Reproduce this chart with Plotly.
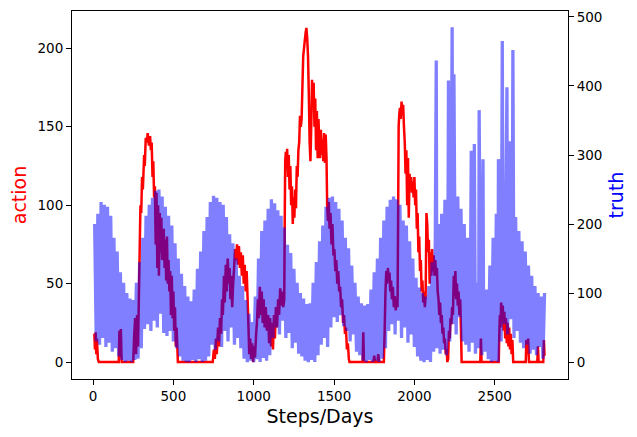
import plotly.graph_objects as go

# action (red, left axis): (day, value)
action_points = [
    (8, 18), (12, 8), (16, 19), (20, 5), (24, 15), (30, 2), (36, 0), (160, 0), (164, 20), (168, 3),
    (173, 21), (178, 0), (250, 0), (255, 15), (262, 28), (268, 5), (274, 30), (280, 10), (285, 40),
    (290, 70), (295, 100), (300, 95), (305, 118), (310, 110), (318, 132), (322, 125), (328, 143),
    (335, 140), (340, 146), (348, 138), (355, 144), (360, 135), (365, 140), (370, 118), (375, 128),
    (380, 105), (385, 112), (390, 75), (395, 108), (400, 60), (405, 100), (410, 55), (415, 95),
    (420, 70), (425, 92), (430, 65), (440, 85), (445, 60), (450, 78), (455, 52), (460, 80), (465, 50),
    (470, 65), (475, 45), (480, 58), (485, 30), (490, 55), (495, 28), (500, 45), (505, 20), (510, 35),
    (515, 10), (520, 22), (528, 0),
    (745, 0), (752, 8), (758, 2), (765, 15), (770, 5), (778, 22), (784, 10), (790, 28), (797, 18),
    (803, 40), (808, 30), (815, 55), (820, 38), (826, 62), (832, 45), (838, 66), (845, 50), (850, 60),
    (855, 40), (860, 55), (866, 35), (872, 50), (878, 60), (884, 72), (890, 65), (896, 75), (902, 62),
    (908, 74), (914, 60), (920, 70), (926, 55), (932, 68), (938, 50), (944, 62), (950, 45), (956, 58),
    (962, 40), (968, 20), (972, 5), (978, 15), (984, 2), (990, 12), (996, 0), (1002, 10), (1008, 3),
    (1015, 18), (1020, 25), (1026, 40), (1032, 28), (1038, 48), (1044, 30), (1050, 45), (1056, 25),
    (1062, 40), (1068, 22), (1075, 35), (1082, 20), (1090, 30), (1096, 12), (1102, 28), (1108, 10),
    (1114, 25), (1120, 8), (1126, 30), (1132, 15), (1138, 35), (1145, 22), (1152, 40), (1158, 30),
    (1165, 47), (1172, 36), (1178, 45), (1184, 35), (1190, 40),
    (1193, 90), (1196, 128), (1200, 134), (1204, 124), (1208, 136), (1213, 118), (1218, 132),
    (1223, 110), (1228, 125), (1233, 100), (1238, 112), (1243, 88), (1248, 105), (1253, 92),
    (1258, 110), (1263, 98), (1268, 125), (1273, 118), (1278, 135), (1283, 140), (1288, 157),
    (1293, 150), (1298, 155), (1303, 175), (1308, 195), (1313, 200), (1318, 205), (1323, 210),
    (1328, 213), (1333, 206), (1338, 195), (1343, 170), (1348, 140), (1353, 128), (1358, 150),
    (1363, 180), (1368, 165), (1373, 178), (1378, 150), (1383, 168), (1388, 135), (1393, 160),
    (1398, 130), (1403, 155), (1408, 140), (1413, 130), (1418, 148), (1423, 132), (1428, 142),
    (1433, 128), (1438, 146), (1443, 127), (1448, 145), (1453, 130), (1457, 100), (1462, 90),
    (1467, 102), (1472, 85), (1478, 95), (1484, 75), (1490, 88), (1496, 68), (1502, 72), (1508, 58),
    (1514, 65), (1520, 50), (1526, 58), (1532, 45), (1538, 48), (1544, 35), (1550, 40), (1556, 25),
    (1562, 30), (1568, 18), (1574, 22), (1580, 8), (1586, 12), (1592, 2), (1596, 0),
    (1678, 0), (1682, 19), (1686, 0), (1745, 0), (1750, 4), (1755, 0), (1770, 0), (1775, 5), (1780, 0),
    (1810, 0), (1815, 20), (1820, 45), (1825, 58), (1830, 50), (1835, 60), (1840, 52), (1845, 57),
    (1850, 45), (1855, 52), (1860, 40), (1866, 48), (1872, 35), (1878, 42), (1884, 33), (1890, 40),
    (1895, 35), (1898, 80), (1902, 150), (1906, 158), (1910, 162), (1915, 155), (1920, 166),
    (1925, 160), (1930, 164), (1935, 150), (1940, 140), (1945, 120), (1950, 135), (1955, 100),
    (1960, 130), (1965, 92), (1970, 120), (1975, 110), (1980, 118), (1985, 108), (1990, 115),
    (1995, 105), (2000, 118), (2005, 100), (2010, 110), (2015, 85), (2020, 95), (2025, 70), (2030, 80),
    (2035, 58), (2040, 65), (2045, 45), (2050, 52), (2055, 38), (2060, 45), (2065, 35), (2070, 42),
    (2075, 95), (2080, 88), (2085, 70), (2090, 78), (2095, 50), (2100, 70), (2105, 55), (2110, 72),
    (2115, 58), (2120, 68), (2125, 55), (2130, 65), (2135, 55), (2140, 60), (2145, 45), (2150, 40),
    (2155, 30), (2160, 38), (2165, 25), (2170, 30), (2175, 18), (2180, 22), (2185, 12), (2190, 15),
    (2195, 5), (2200, 8), (2205, 0), (2210, 2), (2215, 20), (2220, 15), (2225, 28), (2230, 24),
    (2235, 35), (2240, 30), (2245, 55), (2250, 42), (2255, 58), (2260, 40), (2265, 50), (2270, 36),
    (2275, 45), (2280, 30), (2285, 40), (2290, 20), (2294, 0),
    (2410, 0), (2414, 15), (2418, 0), (2525, 0), (2528, 15), (2532, 30), (2536, 22), (2540, 38),
    (2545, 28), (2550, 36), (2555, 20), (2560, 32), (2565, 15), (2570, 28), (2575, 12), (2580, 25),
    (2585, 10), (2590, 22), (2595, 8), (2600, 18), (2605, 5), (2610, 14), (2615, 0), (2693, 0),
    (2697, 14), (2702, 5), (2708, 15), (2713, 0), (2765, 0), (2769, 10), (2773, 0), (2802, 0),
    (2806, 14), (2810, 4),
]

# truth (blue, right axis): daily values swing between an upper and a lower
# edge; both edges read every 20 days (upper from day 10, lower from day 20)
truth_hi = [
    200, 215, 232, 228, 225, 212, 180, 160, 130, 115,
    100, 92, 90, 115, 145, 180, 212, 228, 238, 248,
    250, 240, 225, 212, 198, 172, 150, 128, 110, 95,
    88, 105, 135, 160, 190, 210, 232, 241, 238, 232,
    228, 210, 185, 172, 150, 125, 110, 90, 70, 58,
    95, 150, 190, 205, 222, 236, 230, 220, 212, 195,
    170, 158, 135, 115, 100, 92, 84, 85, 115, 145,
    175, 198, 225, 238, 240, 232, 222, 205, 180, 165,
    140, 115, 95, 85, 82, 84, 105, 130, 150, 180,
    205, 225, 235, 240, 236, 228, 205, 198, 175, 150,
    122, 108, 100, 95, 110, 145, 175, 200, 215, 235,
    255, 262, 258, 240, 222, 200, 180, 160, 140, 115,
    102, 100, 105, 140, 180, 215, 235, 250, 245, 232,
    222, 210, 190, 175, 160, 140, 125, 110, 100, 95,
    100,
]
truth_lo = [
    30, 25, 35, 22, 28, 15, 20, 8, 3, 0,
    2, 0, 3, 5, 20, 48, 55, 45, 60, 50,
    70, 42, 38, 45, 30, 20, 8, 2, 0, 0,
    3, 0, 4, 0, 2, 8, 25, 18, 30, 22,
    45, 30, 50, 25, 35, 20, 5, 0, 2, 0,
    4, 0, 6, 2, 10, 35, 50, 40, 60, 35,
    42, 20, 28, 12, 8, 2, 0, 3, 0, 10,
    25, 35, 22, 50, 65, 58, 68, 52, 45, 30,
    40, 15, 10, 2, 0, 3, 0, 2, 0, 5,
    20, 45, 55, 40, 60, 35, 50, 28, 40, 22,
    8, 2, 0, 3, 0, 15, 20, 12, 18, 10,
    30, 55, 40, 65, 30, 25, 15, 28, 12, 20,
    10, 15, 4, 0, 2, 0, 30, 55, 40, 62,
    35, 45, 28, 20, 25, 12, 18, 10, 22, 5,
]
# single-day spikes in the last years
spike_day = [2136, 2212, 2235, 2246, 2354, 2373, 2403, 2427, 2523, 2547, 2576, 2596, 2613]
spike_val = [437, 408, 485, 417, 306, 316, 365, 294, 294, 465, 398, 320, 452]

x_ticks = [0, 500, 1000, 1500, 2000, 2500]
action_ticks = [0, 50, 100, 150, 200]
truth_ticks = [0, 100, 200, 300, 400, 500]

action_day = [p[0] for p in action_points]
action_val = [p[1] for p in action_points]

truth_pts = [(10 + 20 * i, v) for i, v in enumerate(truth_hi)]
truth_pts += [(20 + 20 * i, v) for i, v in enumerate(truth_lo)]
truth_pts += list(zip(spike_day, spike_val))
truth_pts.sort()
truth_day = [p[0] for p in truth_pts]
truth_val = [p[1] for p in truth_pts]

fig = go.Figure()
fig.add_trace(go.Scatter(
    x=action_day, y=action_val, mode='lines', name='action',
    line=dict(color='#ff0000', width=2.5, simplify=False), yaxis='y'
))
fig.add_trace(go.Scatter(
    x=truth_day, y=truth_val, mode='lines', name='truth',
    line=dict(color='rgba(0,0,255,0.5)', width=3.3, simplify=False), yaxis='y2'
))

axis_common = dict(
    showgrid=False, zeroline=False, showline=True, linecolor='black', linewidth=1,
    ticks='outside', ticklen=5, tickwidth=1, tickcolor='black',
    tickfont=dict(size=13.5, color='black'), ticklabeloverflow='allow',
)

# the page body adds an 8px offset, so the figure is made 8px smaller
fig.update_layout(
    width=629, height=429,
    margin=dict(l=64, r=69, t=1, b=58),
    paper_bgcolor='white', plot_bgcolor='white',
    font=dict(family='DejaVu Sans'),
    showlegend=False,
    xaxis=dict(
        range=[-131, 2956], tickvals=x_ticks, mirror=True,
        title=dict(text='Steps/Days', font=dict(size=19, color='black'), standoff=6),
        **axis_common
    ),
    yaxis=dict(
        range=[-10.8, 223.8], tickvals=action_ticks, mirror=True,
        title=dict(text='action', font=dict(size=19, color='red'), standoff=8),
        **axis_common
    ),
    yaxis2=dict(
        range=[-24.5, 508.6], tickvals=truth_ticks, overlaying='y', side='right',
        title=dict(text='truth', font=dict(size=19, color='blue'), standoff=8),
        **axis_common
    ),
)

fig.write_html("out.html")
